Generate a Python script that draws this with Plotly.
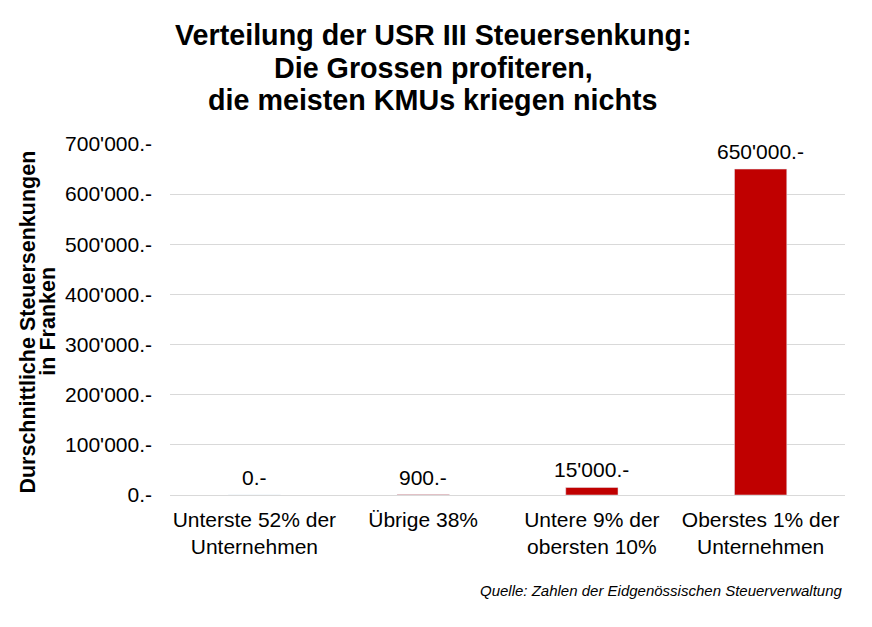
import plotly.graph_objects as go

categories = ["Unterste 52% der<br>Unternehmen", "Übrige 38%", "Untere 9% der<br>obersten 10%", "Oberstes 1% der<br>Unternehmen"]
values = [0, 900, 15000, 650000]
tick_vals = [0, 100000, 200000, 300000, 400000, 500000, 600000, 700000]
title_lines = ["Verteilung der USR III Steuersenkung:", "Die Grossen profiteren,", "die meisten KMUs kriegen nichts"]
y_title_lines = ["Durschnittliche Steuersenkungen", "in Franken"]
source = "Quelle: Zahlen der Eidgenössischen Steuerverwaltung"

def fmt(v):
    return f"{v:,}".replace(",", "'") + ".-"

tick_text = [fmt(v) for v in tick_vals]
labels = [fmt(v) for v in values]

font = "Liberation Sans, Arial, sans-serif"

fig = go.Figure()
fig.add_trace(go.Bar(
    x=categories, y=values, marker_color="#c00000", width=0.31,
    hoverinfo="skip",
))

for c, v, t in zip(categories, values, labels):
    fig.add_annotation(x=c, y=v, text=t, showarrow=False, yanchor="bottom",
                       yshift=4, font=dict(size=21, color="#000000", family=font))

fig.add_annotation(x=1.0, xref="paper", y=-0.2707, yref="paper", xanchor="right", yanchor="middle",
                   text=f"<i>{source}</i>",
                   showarrow=False, font=dict(size=15, color="#000000", family=font))

# title lines (plot area: top 136, bottom 487, height 351 in figure px)
for line, ypx in zip(title_lines, [27, 60, 92]):
    fig.add_annotation(x=0.39, xref="paper", y=(487 - ypx) / 351, yref="paper",
                       xanchor="center", yanchor="middle", showarrow=False,
                       text=f"<b>{line}</b>", font=dict(size=28.7, color="#000000", family=font))

# y-axis title lines
for line, xp in zip(y_title_lines, [-0.2104, -0.1807]):
    fig.add_annotation(x=xp, xref="paper", y=0.494, yref="paper", xanchor="center", yanchor="middle",
                       textangle=-90, showarrow=False,
                       text=f"<b>{line}</b>", font=dict(size=21.5, color="#000000", family=font))

fig.update_layout(
    width=872, height=627,
    margin=dict(l=162, r=35, t=136, b=140),
    plot_bgcolor="white", paper_bgcolor="white",
    showlegend=False,
    font=dict(family=font, color="#000000"),
    xaxis=dict(tickfont=dict(size=21), showgrid=False, showline=False, ticks="",
               ticklabelstandoff=10, automargin=False),
    yaxis=dict(
        range=[0, 700000], tickvals=tick_vals, ticktext=tick_text,
        tickfont=dict(size=21), gridcolor="#d9d9d9", gridwidth=1,
        zeroline=True, zerolinecolor="#d9d9d9", zerolinewidth=1,
        ticks="", ticklabelstandoff=17, automargin=False,
    ),
)

fig.write_html("out.html")
